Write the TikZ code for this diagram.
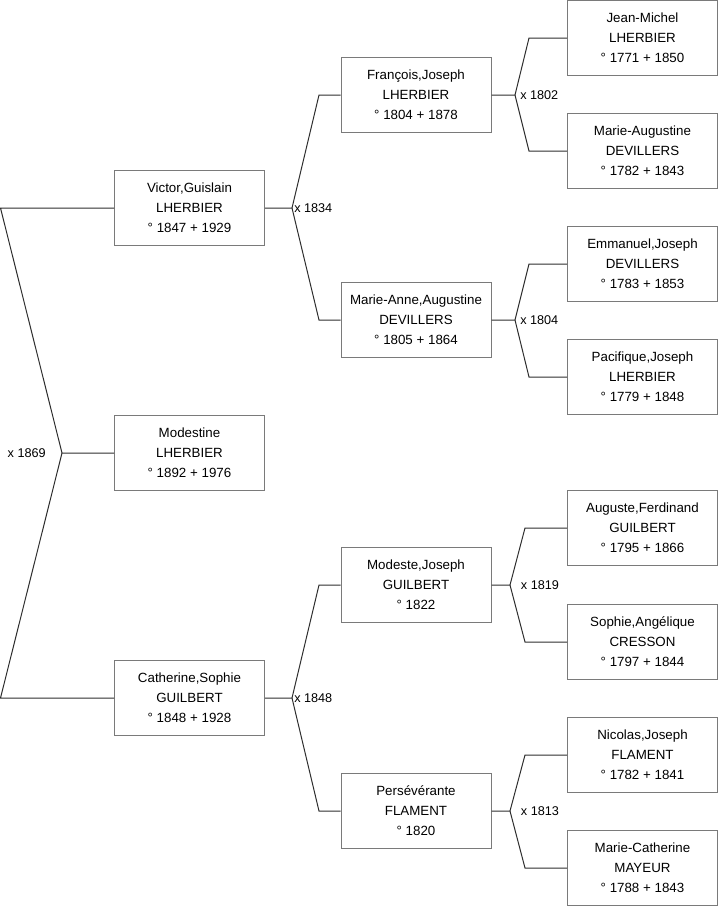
\documentclass[tikz,border=0pt]{standalone}
\usepackage{fontspec}
\setmainfont{Liberation Sans}
\usepackage{tikz}
\usetikzlibrary{positioning}
\definecolor{boxgray}{HTML}{7A7A7A}
\definecolor{linecolor}{HTML}{2E2E2E}

\begin{document}
\begin{tikzpicture}[
    x=0.75pt, y=-0.75pt,
    person/.style={draw=boxgray, line width=0.75pt, minimum width=112.5pt, minimum height=56.25pt, inner sep=0pt, align=center, font=\fontsize{10}{15}\selectfont},
    union/.style={font=\fontsize{9.5}{11}\selectfont, inner sep=0pt},
    link/.style={draw=linecolor, line width=0.75pt}
]
\useasboundingbox (0,0) rectangle (719,908);

% Generation 1
\node[person] (modestine) at (189.5,453) {Modestine\\LHERBIER\\° 1892 + 1976};

% Generation 2
\node[person] (victor) at (189.5,208) {Victor,Guislain\\LHERBIER\\° 1847 + 1929};
\node[person] (catherine) at (189.5,698) {Catherine,Sophie\\GUILBERT\\° 1848 + 1928};

% Generation 3
\node[person] (francois) at (416,95) {François,Joseph\\LHERBIER\\° 1804 + 1878};
\node[person] (marieanne) at (416,320) {Marie-Anne,Augustine\\DEVILLERS\\° 1805 + 1864};
\node[person] (modeste) at (416,585) {Modeste,Joseph\\GUILBERT\\° 1822};
\node[person] (perseverante) at (416,811) {Persévérante\\FLAMENT\\° 1820};

% Generation 4
\node[person] (jeanmichel) at (642.5,38) {Jean-Michel\\LHERBIER\\° 1771 + 1850};
\node[person] (marieaugustine) at (642.5,151) {Marie-Augustine\\DEVILLERS\\° 1782 + 1843};
\node[person] (emmanuel) at (642.5,264) {Emmanuel,Joseph\\DEVILLERS\\° 1783 + 1853};
\node[person] (pacifique) at (642.5,377) {Pacifique,Joseph\\LHERBIER\\° 1779 + 1848};
\node[person] (auguste) at (642.5,528) {Auguste,Ferdinand\\GUILBERT\\° 1795 + 1866};
\node[person] (sophie) at (642.5,642) {Sophie,Angélique\\CRESSON\\° 1797 + 1844};
\node[person] (nicolas) at (642.5,755) {Nicolas,Joseph\\FLAMENT\\° 1782 + 1841};
\node[person] (mariecatherine) at (642.5,868) {Marie-Catherine\\MAYEUR\\° 1788 + 1843};

% Marriage points
\coordinate (m1869) at (62,453);
\coordinate (b1869a) at (0.5,208);
\coordinate (b1869b) at (0.5,698);
\coordinate (m1834) at (292,208);
\coordinate (b1834a) at (319,95);
\coordinate (b1834b) at (319,320);
\coordinate (m1848) at (292,698);
\coordinate (b1848a) at (319,585);
\coordinate (b1848b) at (319,811);
\coordinate (m1802) at (515,95);
\coordinate (b1802a) at (529,38);
\coordinate (b1802b) at (529,151);
\coordinate (m1804) at (515,320);
\coordinate (b1804a) at (529,264);
\coordinate (b1804b) at (529,377);
\coordinate (m1819) at (510,585);
\coordinate (b1819a) at (525,528);
\coordinate (b1819b) at (525,642);
\coordinate (m1813) at (510,811);
\coordinate (b1813a) at (525,755);
\coordinate (b1813b) at (525,868);

% Marriage labels
\node[union, left=12pt of m1869] (l1869) {x 1869};
\node[union, right=1.5pt of m1834] (l1834) {x 1834};
\node[union, right=1.5pt of m1848] (l1848) {x 1848};
\node[union, right=3.75pt of m1802] (l1802) {x 1802};
\node[union, right=3.75pt of m1804] (l1804) {x 1804};
\node[union, right=8pt of m1819] (l1819) {x 1819};
\node[union, right=8pt of m1813] (l1813) {x 1813};

% Links
\draw[link] (modestine.west) -- (m1869) -- (b1869a) -- (victor.west);
\draw[link] (m1869) -- (b1869b) -- (catherine.west);

\draw[link] (victor.east) -- (m1834) -- (b1834a) -- (francois.west);
\draw[link] (m1834) -- (b1834b) -- (marieanne.west);
\draw[link] (catherine.east) -- (m1848) -- (b1848a) -- (modeste.west);
\draw[link] (m1848) -- (b1848b) -- (perseverante.west);

\draw[link] (francois.east) -- (m1802) -- (b1802a) -- (jeanmichel.west);
\draw[link] (m1802) -- (b1802b) -- (marieaugustine.west);
\draw[link] (marieanne.east) -- (m1804) -- (b1804a) -- (emmanuel.west);
\draw[link] (m1804) -- (b1804b) -- (pacifique.west);
\draw[link] (modeste.east) -- (m1819) -- (b1819a) -- (auguste.west);
\draw[link] (m1819) -- (b1819b) -- (sophie.west);
\draw[link] (perseverante.east) -- (m1813) -- (b1813a) -- (nicolas.west);
\draw[link] (m1813) -- (b1813b) -- (mariecatherine.west);
\end{tikzpicture}
\end{document}
